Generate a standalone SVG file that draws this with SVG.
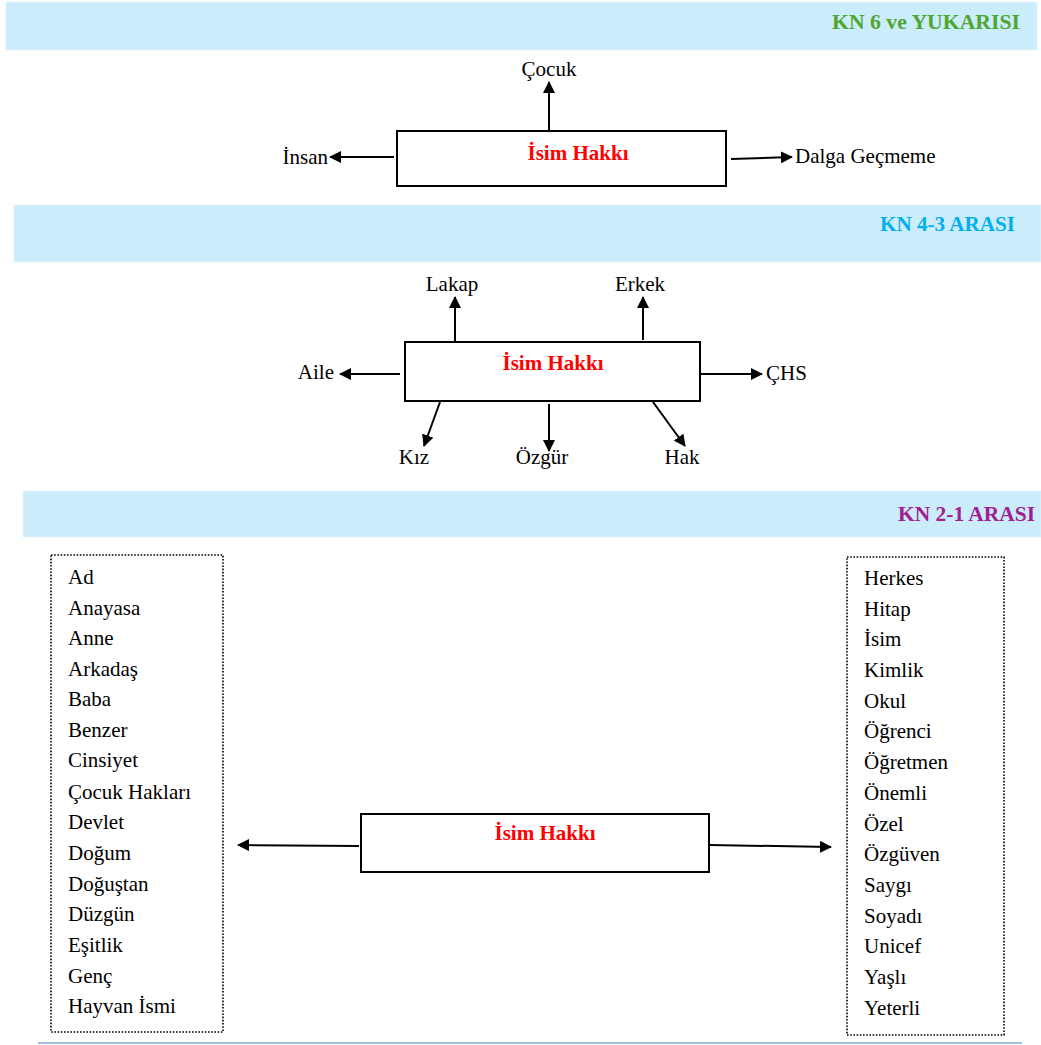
<svg xmlns="http://www.w3.org/2000/svg" width="1041" height="1045" viewBox="0 0 1041 1045">
<defs>
<marker id="ah" markerWidth="12" markerHeight="12" refX="11" refY="6" orient="auto" markerUnits="userSpaceOnUse"><path d="M0,0 L12,6 L0,12 Z" fill="#000"/></marker>
</defs>
<style>
text{font-family:"Liberation Serif","Times New Roman",Tinos,"DejaVu Serif",serif}
.band{fill:#cbecfb;stroke:#e3f4fc;stroke-width:1}
.title{font-weight:bold;font-size:22px}
.box{fill:#fff;stroke:#000;stroke-width:2}
.main{font-weight:bold;font-size:21px;fill:#ff0000;text-anchor:middle}
.lbl{font-size:21px;fill:#000}
.list{fill:#fff;stroke:#000;stroke-width:1.6;stroke-dasharray:1.6 1.6}
.conn line{stroke:#000;stroke-width:2;marker-end:url(#ah)}
</style>
<rect width="1041" height="1045" fill="#fff"/>
<g id="band1"><rect class="band" x="6" y="2" width="1031" height="48"/><text class="title" x="1020" y="29" text-anchor="end" fill="#4ea72e" textLength="188" lengthAdjust="spacingAndGlyphs">KN  6 ve YUKARISI</text></g>
<g id="band2"><rect class="band" x="14" y="205" width="1027" height="57"/><text class="title" x="1015" y="231" text-anchor="end" fill="#00b0f0" textLength="135" lengthAdjust="spacingAndGlyphs">KN 4-3 ARASI</text></g>
<g id="band3"><rect class="band" x="23" y="491" width="1018" height="46"/><text class="title" x="1035" y="521" text-anchor="end" fill="#a0208f" textLength="137" lengthAdjust="spacingAndGlyphs">KN 2-1 ARASI</text></g>
<line x1="38" y1="1043" x2="1022" y2="1043" stroke="#4a7ebb" stroke-width="1.2"/>

<g class="conn" id="connectors">
<line x1="549" y1="131" x2="549" y2="82"/>
<line x1="394" y1="157" x2="330" y2="157"/>
<line x1="731" y1="159" x2="792" y2="157"/>
<line x1="455" y1="341" x2="455" y2="297"/>
<line x1="643" y1="340" x2="643" y2="297"/>
<line x1="400" y1="374" x2="340" y2="374"/>
<line x1="701" y1="374" x2="762" y2="374"/>
<line x1="440" y1="402" x2="424" y2="446"/>
<line x1="549" y1="404" x2="549" y2="451"/>
<line x1="653" y1="402" x2="685" y2="446"/>
<line x1="359" y1="846" x2="238" y2="845"/>
<line x1="710" y1="845" x2="831" y2="847"/>
</g>

<g id="node1"><rect class="box" x="397" y="131" width="329" height="55"/><text class="main" x="578" y="160">İsim Hakkı</text></g>
<g id="n1-cocuk"><text class="lbl" x="549" y="76" text-anchor="middle">Çocuk</text></g>
<g id="n1-insan"><text class="lbl" x="328" y="164" text-anchor="end">İnsan</text></g>
<g id="n1-dalga"><text class="lbl" x="795" y="163">Dalga Geçmeme</text></g>

<g id="node2"><rect class="box" x="405" y="342" width="295" height="59"/><text class="main" x="553" y="370">İsim Hakkı</text></g>
<g id="n2-lakap"><text class="lbl" x="452" y="291" text-anchor="middle">Lakap</text></g>
<g id="n2-erkek"><text class="lbl" x="640" y="291" text-anchor="middle">Erkek</text></g>
<g id="n2-aile"><text class="lbl" x="334" y="379" text-anchor="end">Aile</text></g>
<g id="n2-chs"><text class="lbl" x="766" y="380">ÇHS</text></g>
<g id="n2-kiz"><text class="lbl" x="414" y="464" text-anchor="middle">Kız</text></g>
<g id="n2-ozgur"><text class="lbl" x="542" y="464" text-anchor="middle">Özgür</text></g>
<g id="n2-hak"><text class="lbl" x="682" y="464" text-anchor="middle">Hak</text></g>

<g id="node3"><rect class="box" x="361" y="814" width="348" height="58"/><text class="main" x="545" y="840">İsim Hakkı</text></g>

<g id="list-left"><rect class="list" x="51" y="555" width="172" height="477"/>
<g class="lbl">
<text x="68" y="584">Ad</text>
<text x="68" y="615">Anayasa</text>
<text x="68" y="645">Anne</text>
<text x="68" y="676">Arkadaş</text>
<text x="68" y="706">Baba</text>
<text x="68" y="737">Benzer</text>
<text x="68" y="767">Cinsiyet</text>
<text x="68" y="799">Çocuk Hakları</text>
<text x="68" y="829">Devlet</text>
<text x="68" y="860">Doğum</text>
<text x="68" y="891">Doğuştan</text>
<text x="68" y="921">Düzgün</text>
<text x="68" y="952">Eşitlik</text>
<text x="68" y="983">Genç</text>
<text x="68" y="1013">Hayvan İsmi</text>
</g></g>

<g id="list-right"><rect class="list" x="847" y="557" width="157" height="478"/>
<g class="lbl">
<text x="864" y="585">Herkes</text>
<text x="864" y="616">Hitap</text>
<text x="864" y="646">İsim</text>
<text x="864" y="677">Kimlik</text>
<text x="864" y="708">Okul</text>
<text x="864" y="738">Öğrenci</text>
<text x="864" y="769">Öğretmen</text>
<text x="864" y="800">Önemli</text>
<text x="864" y="831">Özel</text>
<text x="864" y="861">Özgüven</text>
<text x="864" y="892">Saygı</text>
<text x="864" y="923">Soyadı</text>
<text x="864" y="953">Unicef</text>
<text x="864" y="984">Yaşlı</text>
<text x="864" y="1015">Yeterli</text>
</g></g>
</svg>
